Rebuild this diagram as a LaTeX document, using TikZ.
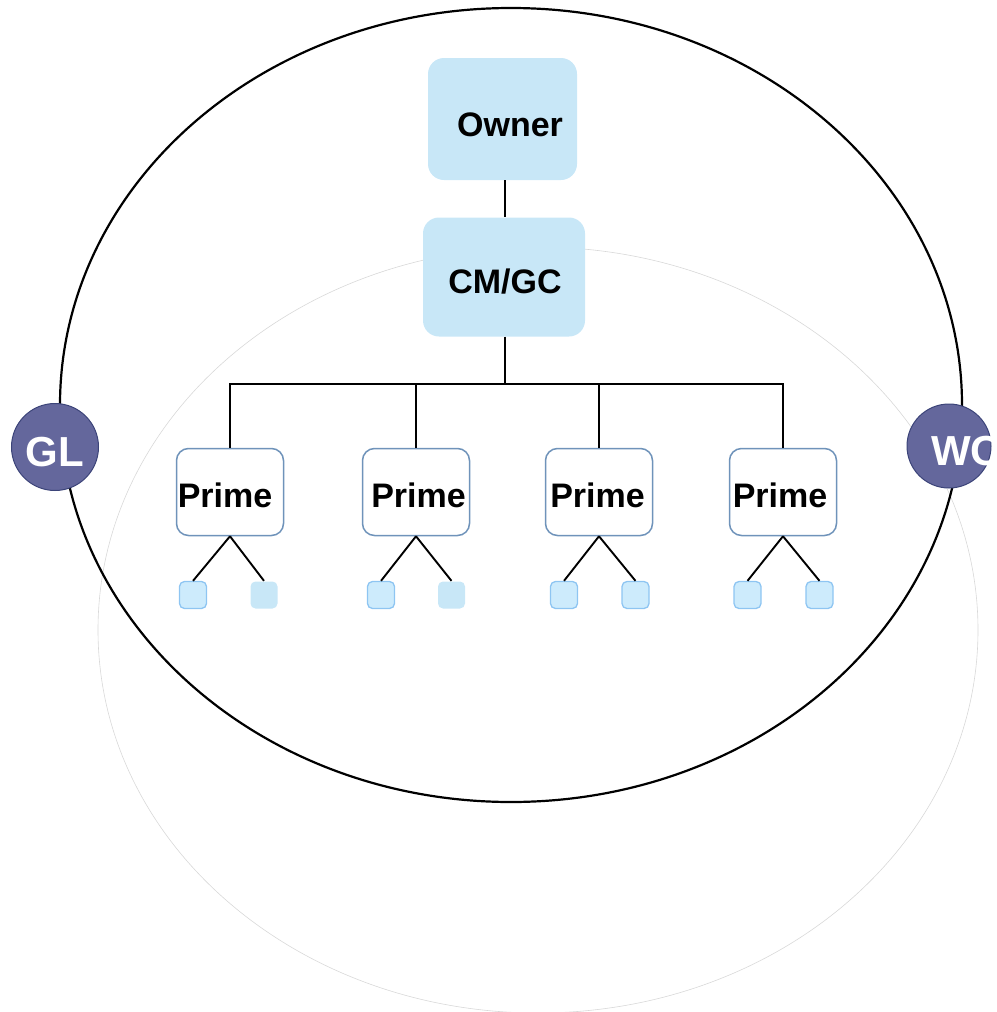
\documentclass[tikz,border=0pt]{standalone}
\usepackage{fontspec}
\setmainfont{Liberation Sans}
\definecolor{boxblue}{HTML}{C8E7F7}
\definecolor{leafblue}{HTML}{CDEBFC}
\definecolor{leafedge}{HTML}{8EC5F2}
\definecolor{primeedge}{HTML}{6F93BA}
\definecolor{partyfill}{HTML}{64679C}
\definecolor{partyedge}{HTML}{3C4479}
\definecolor{faintgray}{HTML}{D8D8D8}
\tikzset{
  topbox/.style={fill=boxblue, draw=none, rounded corners=16pt, inner sep=0pt},
  primebox/.style={fill=white, draw=primeedge, line width=1.5pt, rounded corners=12pt,
    minimum width=107pt, minimum height=87pt, inner sep=0pt},
  leaf/.style={fill=leafblue, draw=leafedge, line width=1.3pt, rounded corners=5pt,
    minimum size=27pt, inner sep=0pt},
  softleaf/.style={leaf, draw=none, fill=boxblue},
  party/.style={circle, fill=partyfill, draw=partyedge, line width=1pt, inner sep=0pt},
  lbl/.style={font=\fontsize{34}{34}\selectfont\bfseries, anchor=base, inner sep=0pt},
  partylbl/.style={font=\fontsize{42}{42}\selectfont\bfseries, text=white, anchor=base, inner sep=0pt},
  link/.style={draw=black, line width=1.9pt},
  orbit/.style={draw=black, line width=2.2pt},
  halo/.style={draw=faintgray, line width=0.6pt},
}
\begin{document}
\begin{tikzpicture}[x=1pt, y=-1pt]
\useasboundingbox (0,0) rectangle (996,1012);

% outer rings
\draw[halo] (538,630) ellipse [x radius=440, y radius=383];
\draw[orbit] (511,405) ellipse [x radius=451, y radius=397];

% top of the hierarchy
\node[topbox, minimum width=149pt, minimum height=122pt] (owner) at (502.5,119) {};
\node[topbox, minimum width=162pt, minimum height=119pt] (cmgc) at (504,277) {};
\node[lbl] (ownerT) at (510,136) {Owner};
\node[lbl] (cmgcT) at (505,293) {CM/GC};

% prime contractors
\node[primebox] (p1) at (230,492) {};
\node[primebox] (p2) at (416,492) {};
\node[primebox] (p3) at (599,492) {};
\node[primebox] (p4) at (783,492) {};
\node[lbl] (p1T) at (225,507) {Prime};
\node[lbl] (p2T) at (418.5,507) {Prime};
\node[lbl] (p3T) at (597.5,507) {Prime};
\node[lbl] (p4T) at (780,507) {Prime};

% subcontractors
\node[leaf] (p1a) at (193,595) {};
\node[softleaf] (p1b) at (264,595) {};
\node[leaf] (p2a) at (381,595) {};
\node[softleaf] (p2b) at (451.5,595) {};
\node[leaf] (p3a) at (564,595) {};
\node[leaf] (p3b) at (635.5,595) {};
\node[leaf] (p4a) at (747.5,595) {};
\node[leaf] (p4b) at (819.5,595) {};

% connectors
\coordinate (bus) at (505,384);
\draw[link] (owner.south -| bus) -- (cmgc.north -| bus);
\draw[link] (cmgc.south -| bus) -- (bus);
\draw[link] (p1.north) -- (p1.north |- bus) -- (p4.north |- bus) -- (p4.north);
\draw[link] (p2.north) -- (p2.north |- bus);
\draw[link] (p3.north) -- (p3.north |- bus);
\foreach \p in {p1,p2,p3,p4}{
  \draw[link] (\p.south) -- (\p a.north);
  \draw[link] (\p.south) -- (\p b.north);
}

% parties on the ring
\node[party, minimum size=87pt] (gl) at (55,447) {};
\node[party, minimum size=84pt] (wc) at (949,446) {};
\node[partylbl] (glT) at (54.5,466) {GL};
\node[partylbl] (wcT) at (966,465) {WC};
\end{tikzpicture}
\end{document}
